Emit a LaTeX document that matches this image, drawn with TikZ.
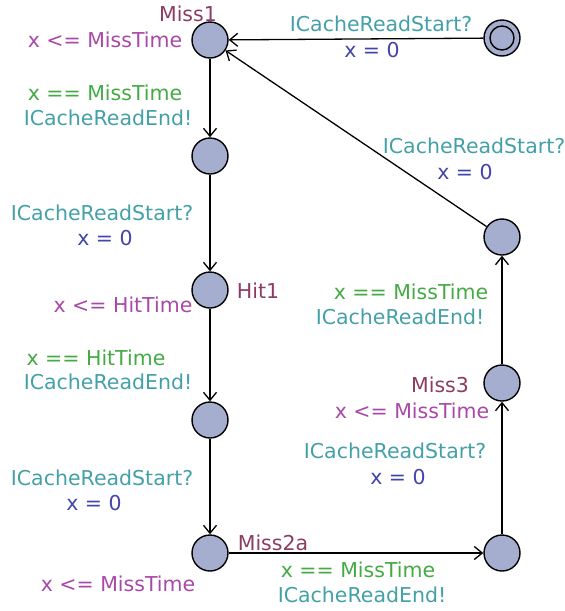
\documentclass[tikz,border=0pt]{standalone}
\usepackage{fontspec}
\setmainfont{DejaVu Sans}
\usetikzlibrary{arrows.meta}
\definecolor{cname}{RGB}{140,60,100}
\definecolor{cinv}{RGB}{168,72,168}
\definecolor{cguard}{RGB}{68,170,68}
\definecolor{csync}{RGB}{68,160,168}
\definecolor{cassign}{RGB}{68,68,170}
\definecolor{cfill}{RGB}{165,174,206}
\begin{document}
\begin{tikzpicture}[x=1pt,y=-1pt,
  loc/.style={circle,draw=black,line width=1.4pt,fill=cfill,minimum size=36pt,inner sep=0pt},
  lbl/.style={inner sep=0pt,font=\fontsize{20.5}{24}\selectfont},
  nm/.style={lbl,text=cname},
  inv/.style={lbl,text=cinv},
  grd/.style={lbl,text=cguard},
  syn/.style={lbl,text=csync},
  asg/.style={lbl,text=cassign},
  edge/.style={draw=black,line width=1.3pt,-{Straight Barb[length=8pt,width=13pt,line width=1.3pt]}}
]
\useasboundingbox (0,0) rectangle (565,611);
% locations
\node[loc] (miss1) at (210,40) {};
\node[loc] (init) at (502,38) {};
\node[circle,draw=black,line width=1.4pt,minimum size=24pt,inner sep=0pt] (initin) at (502,38) {};
\node[loc] (n2) at (210,156) {};
\node[loc] (hit1) at (210,290) {};
\node[loc] (n4) at (210,420) {};
\node[loc] (miss2a) at (210,553) {};
\node[loc] (n6) at (502,553) {};
\node[loc] (miss3) at (502,383) {};
\node[loc] (n8) at (502,237) {};
% edges
\draw[edge] (init) -- (miss1);
\draw[edge] (miss1) -- (n2);
\draw[edge] (n2) -- (hit1);
\draw[edge] (hit1) -- (n4);
\draw[edge] (n4) -- (miss2a);
\draw[edge] (miss2a) -- (n6);
\draw[edge] (n6) -- (miss3);
\draw[edge] (miss3) -- (n8);
\draw[edge] (n8) -- (miss1);
% names and invariants
\node[nm] (lmiss1) at (188,14) {Miss1};
\node[inv] (imiss1) at (105,40) {x <= MissTime};
\node[nm] (lhit1) at (258,291) {Hit1};
\node[inv] (ihit1) at (123,305) {x <= HitTime};
\node[nm] (lmiss2a) at (273,543) {Miss2a};
\node[inv] (imiss2a) at (118,584) {x <= MissTime};
\node[nm] (lmiss3) at (440,385) {Miss3};
\node[inv] (imiss3) at (412,411) {x <= MissTime};
% edge labels
\node[syn] (s1) at (381,24) {ICacheReadStart?};
\node[asg] (a1) at (372,50) {x = 0};
\node[grd] (g2) at (105,93) {x == MissTime};
\node[syn] (s2) at (108,118) {ICacheReadEnd!};
\node[syn] (s3) at (102,213) {ICacheReadStart?};
\node[asg] (a3) at (105,238) {x = 0};
\node[grd] (g4) at (96,358) {x == HitTime};
\node[syn] (s4) at (108,382) {ICacheReadEnd!};
\node[syn] (s5) at (102,478) {ICacheReadStart?};
\node[asg] (a5) at (94,503) {x = 0};
\node[grd] (g6) at (358,570) {x == MissTime};
\node[syn] (s6) at (362,595) {ICacheReadEnd!};
\node[syn] (s7) at (395,451) {ICacheReadStart?};
\node[asg] (a7) at (398,477) {x = 0};
\node[grd] (g8) at (411,292) {x == MissTime};
\node[syn] (s8) at (400,317) {ICacheReadEnd!};
\node[syn] (s9) at (474,146) {ICacheReadStart?};
\node[asg] (a9) at (465,172) {x = 0};
\end{tikzpicture}
\end{document}
